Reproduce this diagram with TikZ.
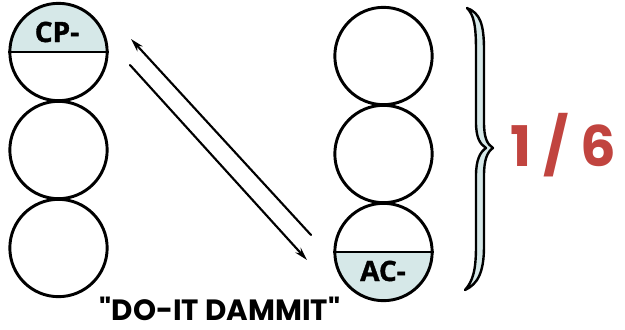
\documentclass[tikz,border=0pt]{standalone}
\usepackage{fontspec}
\setmainfont{Open Sans}
\newfontfamily\popfont{Poppins}
\newfontfamily\labfont[BoldFeatures={FakeBold=1.2}]{Open Sans}
\usetikzlibrary{arrows.meta}
\definecolor{paleteal}{HTML}{D6E8E8}
\definecolor{fracred}{HTML}{C1443F}
\tikzset{
  ball/.style={circle, draw=black, line width=2.2pt, minimum size=73pt, inner sep=0pt},
  half/.style={fill=paleteal},
  lab/.style={font=\labfont\fontsize{21}{21}\selectfont\bfseries, inner sep=0pt, anchor=base},
  conn/.style={line width=1.6pt, line cap=round},
  bracefill/.style={fill=paleteal, draw=black, line width=1.8pt, line join=round}
}
\begin{document}
\begin{tikzpicture}[x=0.75pt,y=-0.75pt]
\useasboundingbox (0,0) rectangle (625,329);
% left column
\coordinate (L1c) at (58.5,52);
\fill[half] (L1c) ++(36.75pt,0) arc[start angle=0,end angle=180,radius=36.75pt] -- cycle;
\node[ball] (L1) at (L1c) {};
\node[ball] (L2) at (58.5,150) {};
\node[ball] (L3) at (58.5,248) {};
\draw[line width=2.2pt] (L1.west) -- (L1.east);
\node[lab] (cp) at (57,42) {CP-};
% right column
\coordinate (R3c) at (383.5,252);
\fill[half] (R3c) ++(36.75pt,0) arc[start angle=0,end angle=-180,radius=36.75pt] -- cycle;
\node[ball] (R1) at (383.5,56) {};
\node[ball] (R2) at (383.5,154) {};
\node[ball] (R3) at (R3c) {};
\draw[line width=2.2pt] (R3.west) -- (R3.east);
\node[lab] (ac) at (383,281) {AC-};
% arrows
\coordinate (a1s) at (311,235);
\coordinate (a1e) at (131,39);
\coordinate (a2s) at (130,65);
\coordinate (a2e) at (307,260);
\draw[conn, -{Stealth[length=10pt,width=5.5pt]}] (a1s) -- (a1e);
\draw[conn, -{Stealth[length=10pt,width=5.5pt]}] (a2s) -- (a2e);
% brace
\path[bracefill] (467,8) .. controls (480,13) and (484,24) .. (484,50) -- (484,122)
  .. controls (484,138) and (487,144) .. (493,148)
  .. controls (487,152) and (484,160) .. (484,176) -- (484,246)
  .. controls (484,272) and (478,284) .. (465,290)
  .. controls (473,281) and (476,270) .. (476,246) -- (476,176)
  .. controls (476,160) and (480,152) .. (486,148)
  .. controls (480,144) and (476,138) .. (476,122) -- (476,50)
  .. controls (476,26) and (474,15) .. (467,8) -- cycle;
\node[font=\popfont\fontsize{42}{42}\selectfont\bfseries, text=fracred, inner sep=0pt, anchor=base] (frac) at (563,166) {1 / 6};
\node[font=\popfont\fontsize{22}{22}\selectfont\bfseries, inner sep=0pt, anchor=base] (quote) at (220,320) {"DO-IT DAMMIT"};
\end{tikzpicture}
\end{document}
